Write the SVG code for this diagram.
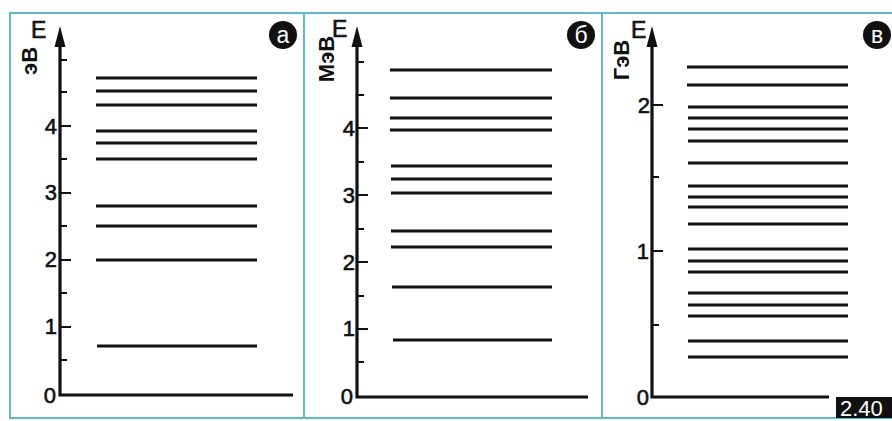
<svg xmlns="http://www.w3.org/2000/svg" width="892" height="421" viewBox="0 0 892 421">
<style>
.frame{fill:none;stroke:#5bbccb;stroke-width:2}
.axis{fill:none;stroke:#111;stroke-width:3.2}
.tick{stroke:#111;stroke-width:2}
.lvl{stroke:#111;stroke-width:2.8}
.num{font-family:"Liberation Sans",Arial,sans-serif;font-size:22px;fill:#111;stroke:#111;stroke-width:0.6;text-anchor:end}
.lab{font-family:"Liberation Sans",Arial,sans-serif;font-size:23px;fill:#111;stroke:#111;stroke-width:0.6}
.unit{font-family:"Liberation Sans",Arial,sans-serif;font-size:22px;font-weight:bold;fill:#111;text-anchor:middle}
.badge{font-family:"Liberation Sans",Arial,sans-serif;font-size:23px;fill:#fff;text-anchor:middle}
</style>
<defs>
<polygon id="arrow" points="0,-3 -5.5,18 5.5,18" fill="#111"/>
</defs>
<rect width="892" height="421" fill="#fff"/>
<g id="frames">
<rect class="frame" x="10" y="13" width="294" height="405"/>
<rect class="frame" x="304" y="13" width="298" height="405"/>
<path class="frame" d="M892,13 H602 V418 H892"/>
</g>

<g id="panel-a">
<path class="axis" d="M60,40 V395 H293"/>
<use href="#arrow" x="60" y="29"/>
<g class="tick">
<line x1="60" y1="126" x2="71" y2="126"/><line x1="60" y1="193" x2="71" y2="193"/><line x1="60" y1="260" x2="71" y2="260"/><line x1="60" y1="327" x2="71" y2="327"/>
<line x1="60" y1="60" x2="67" y2="60"/><line x1="60" y1="92" x2="67" y2="92"/><line x1="60" y1="159" x2="67" y2="159"/><line x1="60" y1="226" x2="67" y2="226"/><line x1="60" y1="293" x2="67" y2="293"/><line x1="60" y1="360" x2="67" y2="360"/>
</g>
<g class="num">
<text x="57" y="134">4</text><text x="57" y="200">3</text><text x="57" y="267">2</text><text x="57" y="334">1</text><text x="56" y="403">0</text>
</g>
<text class="lab" x="31" y="38">E</text>
<text class="unit" transform="translate(37,61) rotate(-90)">эВ</text>
<circle cx="283" cy="35" r="14" fill="#111"/>
<text class="badge" x="283" y="43">а</text>
<g class="lvl">
<line x1="96" y1="78" x2="257" y2="78"/><line x1="96" y1="91" x2="257" y2="91"/><line x1="96" y1="105" x2="257" y2="105"/><line x1="96" y1="131" x2="257" y2="131"/><line x1="96" y1="143" x2="257" y2="143"/><line x1="96" y1="159" x2="257" y2="159"/><line x1="96" y1="206" x2="257" y2="206"/><line x1="96" y1="226" x2="257" y2="226"/><line x1="96" y1="260" x2="257" y2="260"/><line x1="97" y1="346" x2="257" y2="346"/>
</g>
</g>

<g id="panel-b">
<path class="axis" d="M357,40 V397 H588"/>
<use href="#arrow" x="357" y="29"/>
<g class="tick">
<line x1="357" y1="128" x2="368" y2="128"/><line x1="357" y1="195" x2="368" y2="195"/><line x1="357" y1="262" x2="368" y2="262"/><line x1="357" y1="329" x2="368" y2="329"/>
<line x1="357" y1="62" x2="364" y2="62"/><line x1="357" y1="95" x2="364" y2="95"/><line x1="357" y1="162" x2="364" y2="162"/><line x1="357" y1="229" x2="364" y2="229"/><line x1="357" y1="296" x2="364" y2="296"/><line x1="357" y1="362" x2="364" y2="362"/>
</g>
<g class="num">
<text x="355" y="136">4</text><text x="355" y="203">3</text><text x="355" y="270">2</text><text x="355" y="336">1</text><text x="353" y="404">0</text>
</g>
<text class="lab" x="332" y="37">E</text>
<text class="unit" transform="translate(334,59) rotate(-90)">МэВ</text>
<circle cx="581" cy="35" r="14" fill="#111"/>
<text class="badge" x="581" y="43">б</text>
<g class="lvl">
<line x1="390" y1="70" x2="552" y2="70"/><line x1="390" y1="98" x2="552" y2="98"/><line x1="390" y1="118" x2="552" y2="118"/><line x1="390" y1="130" x2="552" y2="130"/><line x1="391" y1="166" x2="552" y2="166"/><line x1="391" y1="179" x2="552" y2="179"/><line x1="391" y1="193" x2="552" y2="193"/><line x1="391" y1="231" x2="552" y2="231"/><line x1="391" y1="247" x2="552" y2="247"/><line x1="392" y1="287" x2="552" y2="287"/><line x1="393" y1="340" x2="552" y2="340"/>
</g>
</g>

<g id="panel-c">
<path class="axis" d="M652,40 V397 H829"/>
<use href="#arrow" x="652" y="29"/>
<g class="tick">
<line x1="652" y1="105" x2="663" y2="105"/><line x1="652" y1="251" x2="663" y2="251"/>
<line x1="652" y1="177" x2="659" y2="177"/><line x1="652" y1="325" x2="659" y2="325"/>
</g>
<g class="num">
<text x="650" y="113">2</text><text x="649" y="259">1</text><text x="649" y="405">0</text>
</g>
<text class="lab" x="631" y="38">E</text>
<text class="unit" transform="translate(629,60) rotate(-90)">ГэВ</text>
<circle cx="877" cy="35" r="14" fill="#111"/>
<text class="badge" x="877" y="43">в</text>
<g class="lvl">
<line x1="687" y1="67" x2="848" y2="67"/><line x1="687" y1="85" x2="848" y2="85"/><line x1="688" y1="107" x2="848" y2="107"/><line x1="688" y1="118" x2="848" y2="118"/><line x1="688" y1="129" x2="848" y2="129"/><line x1="688" y1="141" x2="848" y2="141"/><line x1="688" y1="163" x2="848" y2="163"/><line x1="688" y1="186" x2="848" y2="186"/><line x1="688" y1="197" x2="848" y2="197"/><line x1="688" y1="207" x2="848" y2="207"/><line x1="688" y1="224" x2="848" y2="224"/><line x1="688" y1="249" x2="848" y2="249"/><line x1="688" y1="261" x2="848" y2="261"/><line x1="688" y1="272" x2="848" y2="272"/><line x1="688" y1="293" x2="848" y2="293"/><line x1="688" y1="305" x2="848" y2="305"/><line x1="688" y1="316" x2="848" y2="316"/><line x1="688" y1="341" x2="848" y2="341"/><line x1="688" y1="357" x2="848" y2="357"/>
</g>
</g>

<g id="figure-number">
<rect x="836" y="397" width="56" height="21" fill="#111"/>
<text x="840" y="416" font-family="Liberation Sans, Arial, sans-serif" font-size="22" fill="#fff">2.40</text>
</g>
</svg>
